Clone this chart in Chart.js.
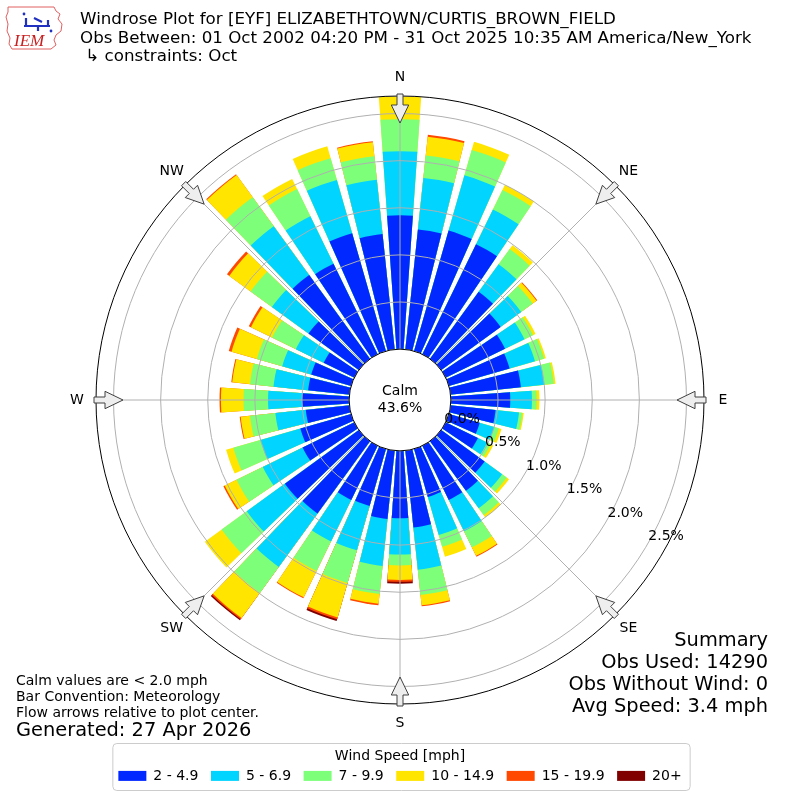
<!DOCTYPE html>
<html>
<head>
<meta charset="utf-8">
<title>Windrose EYF</title>
<script src="https://cdn.jsdelivr.net/npm/chart.js@4.4.0/dist/chart.umd.min.js"></script>
<style>
  body { margin: 0; background: #fff; }
  #wrap { position: relative; width: 800px; height: 800px; font-family: 'DejaVu Sans', sans-serif; color: #000; }
  #wrap canvas { position: absolute; left: 0; top: 0; }
  .txt { position: absolute; white-space: pre; }
  #title { left: 80px; top: 9px; font-size: 16.7px; line-height: 18.7px; }
  #notes { left: 16px; top: 672px; font-size: 14px; line-height: 16px; }
  #generated { left: 16px; top: 719px; font-size: 19.4px; line-height: 22px; }
  #summary { right: 32px; top: 629px; font-size: 19.4px; line-height: 22px; text-align: right; }
  #logo { position: absolute; left: 4px; top: 4px; }
</style>
</head>
<body>
<div id="wrap">
  <canvas id="windrose" width="800" height="800"></canvas>
  <svg id="logo" width="64" height="48" viewBox="0 0 64 48">
    <path d="M4 3 L50 3 L52 7 L56 10 L54 15 L58 20 L57 27 L52 31 L50 36 L52 41 L47 45 L8 45 L5 40 L6 34 L3 27 L4 20 L2 13 L4 8 Z" fill="none" stroke="#e06060" stroke-width="1"/>
    <path d="M20 22 L46 22 M22 22 L22 14 M44 22 L44 16 M30 14 L38 18 M34 22 L34 27" stroke="#2030c0" stroke-width="2.2" fill="none"/>
    <circle cx="20" cy="10" r="1.4" fill="#2030c0"/>
    <circle cx="47" cy="27" r="1.4" fill="#2030c0"/>
    <text x="10" y="42" font-family="Liberation Serif" font-style="italic" font-size="17" fill="#c82020">IEM</text>
  </svg>
  <div class="txt" id="title">Windrose Plot for [EYF] ELIZABETHTOWN/CURTIS_BROWN_FIELD
Obs Between: 01 Oct 2002 04:20 PM - 31 Oct 2025 10:35 AM America/New_York
 ↳ constraints: Oct</div>
  <div class="txt" id="notes">Calm values are &lt; 2.0 mph
Bar Convention: Meteorology
Flow arrows relative to plot center.</div>
  <div class="txt" id="generated">Generated: 27 Apr 2026</div>
  <div class="txt" id="summary">Summary
Obs Used: 14290
Obs Without Wind: 0
Avg Speed: 3.4 mph</div>
</div>
<script>
// Wind directions (degrees, meteorological) - one bar per 10 degrees
const DIRECTIONS = [0, 10, 20, 30, 40, 50, 60, 70, 80, 90, 100, 110, 120, 130, 140, 150, 160, 170,
  180, 190, 200, 210, 220, 230, 240, 250, 260, 270, 280, 290, 300, 310, 320, 330, 340, 350];

const SPEED_BINS = ['2 - 4.9', '5 - 6.9', '7 - 9.9', '10 - 14.9', '15 - 19.9', '20+'];

// Percent of observations per direction, for each speed bin
const PCT_2_5 = [1.42, 1.28, 1.33, 1.30, 0.88, 0.78, 0.70, 0.67, 0.75, 0.63, 0.48, 0.34, 0.38, 0.57, 0.65, 0.64, 0.53, 0.82,
  0.715, 0.73, 0.63, 0.64, 0.95, 0.97, 0.61, 0.56, 0.465, 0.50, 0.44, 0.44, 0.36, 0.66, 1.10, 1.07, 1.30, 1.23];
const PCT_5_7 = [0.68, 0.55, 0.61, 0.41, 0.36, 0.27, 0.23, 0.28, 0.25, 0.23, 0.25, 0.16, 0.11, 0.23, 0.23, 0.37, 0.42, 0.45,
  0.385, 0.50, 0.49, 0.49, 0.70, 0.50, 0.47, 0.44, 0.325, 0.36, 0.37, 0.32, 0.33, 0.48, 0.64, 0.56, 0.59, 0.58];
const PCT_7_10 = [0.34, 0.24, 0.28, 0.23, 0.20, 0.15, 0.10, 0.10, 0.10, 0.05, 0.035, 0.05, 0.04, 0.06, 0.09, 0.19, 0.13, 0.27,
  0.115, 0.30, 0.36, 0.35, 0.34, 0.33, 0.31, 0.30, 0.27, 0.26, 0.25, 0.28, 0.28, 0.28, 0.38, 0.32, 0.24, 0.25];
const PCT_10_15 = [0.24, 0.20, 0.09, 0.06, 0.05, 0.05, 0.03, 0.02, 0.02, 0.03, 0.015, 0.03, 0.03, 0.03, 0.03, 0.10, 0.11, 0.11,
  0.155, 0.105, 0.38, 0.31, 0.33, 0.22, 0.14, 0.08, 0.10, 0.24, 0.19, 0.28, 0.25, 0.28, 0.29, 0.12, 0.13, 0.15];
const PCT_15_20 = [0, 0.02, 0, 0, 0, 0.01, 0, 0, 0, 0, 0, 0, 0, 0, 0, 0.01, 0, 0.01,
  0.02, 0.015, 0.02, 0.01, 0.015, 0, 0.015, 0, 0.01, 0.015, 0.01, 0.03, 0.025, 0.03, 0.01, 0, 0, 0.01];
const PCT_20_UP = [0, 0, 0, 0, 0, 0, 0, 0, 0, 0, 0, 0, 0, 0, 0, 0, 0, 0,
  0.02, 0, 0.02, 0, 0.015, 0, 0, 0, 0, 0, 0, 0, 0, 0, 0, 0, 0, 0];

const CALM_PCT = 43.6;
const RING_TICKS = [0, 0.5, 1.0, 1.5, 2.0, 2.5];
const COMPASS_LABELS = ['N', 'NE', 'E', 'SE', 'S', 'SW', 'W', 'NW'];

// radial axis limits in percent (negative min leaves room for the calm circle)
const R_MIN = -0.54;
const R_MAX = 2.686;

const BIN_COLORS = ['#0028ff', '#00d4ff', '#7dff7a', '#ffe500', '#ff4800', '#800000'];
const BAR_DEG = 8;
const GAP_DEG = 10 - BAR_DEG;

Chart.defaults.font.family = "'DejaVu Sans', sans-serif";
Chart.defaults.color = '#000';

// stack the bins: each dataset holds the running total up to that bin
const binValues = [PCT_2_5, PCT_5_7, PCT_7_10, PCT_10_15, PCT_15_20, PCT_20_UP];
const stacked = [];
let running = DIRECTIONS.map(() => 0);
binValues.forEach(bin => {
  running = running.map((s, i) => s + bin[i]);
  stacked.push(running);
});

// every bar is followed by an empty slot that makes the gap between bars
const labels = DIRECTIONS.flatMap(d => [d + '°', '']);

const datasets = SPEED_BINS.map((label, k) => ({
  label: label,
  data: DIRECTIONS.flatMap((d, i) => [binValues[k][i] > 0 ? stacked[k][i] : null, null]),
  backgroundColor: BIN_COLORS[k],
  borderWidth: 0,
  angle: ctx => (ctx.dataIndex % 2 === 0 ? BAR_DEG : GAP_DEG)
}));

const toRad = deg => deg * Math.PI / 180;

// compass lines, outer ring, calm circle, arrows and ring labels
const roseDecor = {
  id: 'roseDecor',
  afterDraw(chart) {
    const ctx = chart.ctx;
    const scale = chart.scales.r;
    const cx = scale.xCenter;
    const cy = scale.yCenter;
    const outer = scale.drawingArea;
    const calmR = scale.getDistanceFromCenterForValue(0);
    ctx.save();

    ctx.strokeStyle = '#b0b0b0';
    ctx.lineWidth = 1;
    for (let k = 0; k < 8; k++) {
      const a = toRad(k * 45 - 90);
      ctx.beginPath();
      ctx.moveTo(cx, cy);
      ctx.lineTo(cx + outer * Math.cos(a), cy + outer * Math.sin(a));
      ctx.stroke();
    }

    ctx.strokeStyle = '#000';
    ctx.beginPath();
    ctx.arc(cx, cy, outer, 0, 2 * Math.PI);
    ctx.stroke();

    ctx.fillStyle = '#fff';
    ctx.beginPath();
    ctx.arc(cx, cy, calmR, 0, 2 * Math.PI);
    ctx.fill();
    ctx.stroke();

    ctx.fillStyle = '#000';
    ctx.font = "14px 'DejaVu Sans'";
    ctx.textAlign = 'center';
    ctx.textBaseline = 'middle';
    ctx.fillText('Calm', cx, cy - 9);
    ctx.fillText(CALM_PCT.toFixed(1) + '%', cx, cy + 8);

    // hollow arrows pointing to the center
    COMPASS_LABELS.forEach((lab, k) => {
      const a = toRad(k * 45 - 90);
      const ux = Math.cos(a), uy = Math.sin(a);
      const px = -uy, py = ux;
      const pts = [[outer + 2, -3], [outer + 2, 3], [outer - 9, 3], [outer - 9, 8.7], [outer - 27, 0], [outer - 9, -8.7], [outer - 9, -3]];
      ctx.beginPath();
      pts.forEach(([r, w], j) => {
        const x = cx + r * ux + w * px;
        const y = cy + r * uy + w * py;
        if (j === 0) ctx.moveTo(x, y); else ctx.lineTo(x, y);
      });
      ctx.closePath();
      ctx.fillStyle = '#eeeeee';
      ctx.fill();
      ctx.strokeStyle = '#404040';
      ctx.lineWidth = 1;
      ctx.stroke();

      ctx.fillStyle = '#000';
      ctx.fillText(lab, cx + (outer + 19) * ux, cy + (outer + 19) * uy);
    });

    // ring labels along 120 degrees
    const la = toRad(120 - 90);
    RING_TICKS.forEach(v => {
      const r = scale.getDistanceFromCenterForValue(v);
      ctx.fillText(v.toFixed(1) + '%', cx + r * Math.cos(la) + 18, cy + r * Math.sin(la) - 6.5);
    });

    // frame round the legend
    const lg = chart.legend;
    const hb = lg.legendHitBoxes;
    const last = hb[hb.length - 1];
    const x0 = hb[0].left - 6;
    const x1 = last.left + last.width + 8;
    const y0 = lg.top + 39;
    const y1 = lg.top + 86;
    ctx.strokeStyle = '#cccccc';
    ctx.beginPath();
    ctx.roundRect(x0 + 0.5, y0 + 0.5, x1 - x0, y1 - y0, 4);
    ctx.stroke();
    ctx.restore();
  }
};

new Chart(document.getElementById('windrose'), {
  type: 'polarArea',
  data: {
    labels: labels,
    datasets: datasets
  },
  options: {
    responsive: false,
    animation: false,
    events: [],
    layout: {
      padding: { left: 96, right: 96, top: 96, bottom: 7.1 }
    },
    scales: {
      r: {
        min: R_MIN,
        max: R_MAX,
        startAngle: -BAR_DEG / 2,
        ticks: { display: false },
        grid: { circular: true, color: '#b0b0b0', lineWidth: 1, z: 1 },
        angleLines: { display: false },
        pointLabels: { display: false },
        afterBuildTicks: axis => {
          axis.ticks = RING_TICKS.map(v => ({ value: v }));
        }
      }
    },
    plugins: {
      tooltip: { enabled: false },
      legend: {
        position: 'bottom',
        title: {
          display: true,
          text: 'Wind Speed [mph]',
          font: { size: 14, lineHeight: 0.85 },
          padding: { top: 45, bottom: -4.5 }
        },
        labels: {
          boxWidth: 28,
          boxHeight: 10,
          padding: 12.5,
          font: { size: 14 },
          generateLabels: chart => chart.data.datasets.map((ds, i) => ({
            text: ds.label,
            fillStyle: ds.backgroundColor,
            strokeStyle: ds.backgroundColor,
            lineWidth: 0,
            hidden: false,
            datasetIndex: i
          }))
        }
      }
    }
  },
  plugins: [roseDecor]
});
</script>
</body>
</html>
